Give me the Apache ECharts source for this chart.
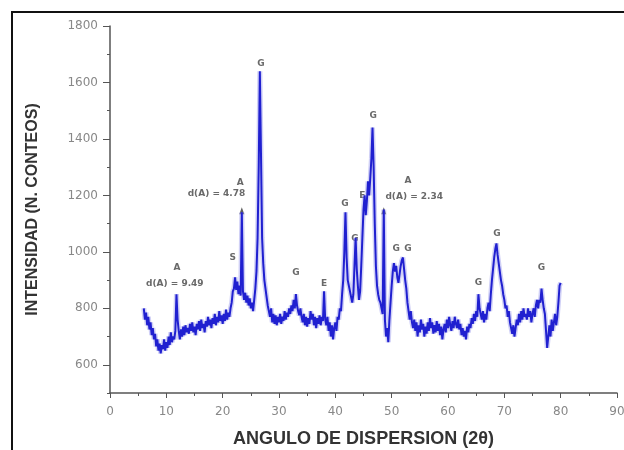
<!DOCTYPE html>
<html lang="es">
<head>
    <meta charset="UTF-8">
    <title>Difractograma</title>
    <script src="https://cdn.jsdelivr.net/npm/echarts@6/dist/echarts.min.js"></script>
</head>
<body style="margin:0;background:#fff;">
<div id="box" style="width: 624px;height: 450px;"></div>
<script>
    // barrido 2theta: inicio y paso de la medida
    var anguloInicio = 6.0;
    var anguloPaso = 0.2;
    // intensidad, cada fila = 2 grados
    var intensidad = [
        800, 760, 785, 740, 770, 725, 750, 705, 730, 690,   // 6
        710, 665, 690, 650, 675, 640, 670, 655, 690, 650,   // 8
        680, 660, 700, 670, 715, 680, 700, 690, 720, 850,   // 10
        760, 720, 690, 725, 700, 735, 705, 740, 715, 730,   // 12
        710, 745, 720, 750, 715, 735, 705, 745, 725, 755,   // 14
        720, 760, 730, 745, 715, 755, 735, 770, 740, 760,   // 16
        730, 765, 745, 780, 740, 770, 750, 790, 755, 775,   // 18
        745, 780, 755, 795, 760, 785, 770, 800, 820, 860,   // 20
        870, 910, 865, 895, 850, 880, 845, 1140, 860, 830,  // 22
        855, 820, 845, 810, 835, 800, 820, 790, 830, 870,   // 24
        930, 1050, 1300, 1640, 1350, 1050, 960, 900, 870, 840, // 26
        810, 790, 770, 800, 750, 780, 745, 775, 740, 770,   // 28
        750, 780, 745, 770, 755, 790, 760, 785, 770, 800,   // 30
        780, 810, 790, 830, 800, 850, 810, 790, 775, 800,   // 32
        770, 750, 780, 740, 770, 735, 765, 745, 790, 760,   // 34
        780, 740, 770, 730, 765, 745, 775, 740, 770, 755,   // 36
        860, 760, 740, 770, 720, 750, 700, 740, 690, 730,   // 38
        750, 720, 770, 760, 800, 790, 850, 900, 1000, 1140, // 40
        980, 900, 880, 860, 840, 820, 850, 950, 1050, 940,  // 42
        880, 830, 860, 950, 1050, 1150, 1200, 1130, 1180, 1250, // 44
        1200, 1260, 1330, 1440, 1300, 1100, 950, 880, 850, 830, // 46
        820, 800, 780, 1150, 760, 700, 730, 680, 760, 820,  // 48
        880, 930, 960, 930, 950, 910, 890, 920, 950, 970,   // 50
        980, 940, 900, 870, 820, 790, 760, 790, 750, 730,   // 52
        760, 720, 750, 700, 740, 715, 760, 725, 745, 700,   // 54
        735, 710, 750, 720, 765, 730, 750, 710, 740, 715,   // 56
        755, 720, 745, 705, 735, 690, 725, 745, 715, 760,   // 58
        730, 770, 740, 720, 755, 730, 770, 745, 730, 760,   // 60
        725, 745, 705, 730, 700, 720, 690, 735, 715, 745,   // 62
        730, 765, 745, 780, 755, 790, 770, 850, 800, 780,   // 64
        760, 790, 750, 780, 760, 800, 820, 790, 850, 900,   // 66
        940, 980, 1010, 1030, 990, 960, 930, 900, 880, 850, // 68
        830, 800, 810, 770, 790, 750, 730, 710, 740, 700,   // 70
        730, 760, 740, 780, 750, 790, 760, 800, 770, 780,   // 72
        760, 800, 770, 790, 750, 780, 800, 770, 810, 830,   // 74
        800, 830, 820, 870, 830, 800, 780, 720, 660, 700,   // 76
        740, 700, 760, 720, 750, 780, 740, 770, 820, 880,   // 78
        890                                                 // 80
    ];

    // marcas grandes del eje Y (con etiqueta)
    var marcasY = [600, 800, 1000, 1200, 1400, 1600, 1800];

    // etiquetas de fases: [2theta, intensidad, texto]
    var etiquetas = [
        [11.9, 945, 'A'], [11.5, 888, 'd(A) = 9.49'],
        [21.8, 980, 'S'],
        [23.1, 1245, 'A'], [18.9, 1206, 'd(A) = 4.78'],
        [26.8, 1668, 'G'], [33.0, 927, 'G'], [38.0, 888, 'E'],
        [41.7, 1170, 'G'], [43.5, 1047, 'G'], [44.8, 1199, 'E'],
        [46.7, 1481, 'G'],
        [52.9, 1252, 'A'], [54.0, 1195, 'd(A) = 2.34'],
        [50.8, 1012, 'G'], [52.9, 1012, 'G'],
        [65.4, 892, 'G'], [68.7, 1065, 'G'], [76.6, 945, 'G']
    ];
    // puntas de flecha de los picos A
    var flechas = [[23.4, 1146], [48.6, 1146]];

    var serie = [];
    for (var i = 0; i < intensidad.length; i++) {
        serie.push([+(anguloInicio + i * anguloPaso).toFixed(1), intensidad[i]]);
    }

    var gris = '#555';
    var myChart = echarts.init(document.getElementById('box'));
    var option = {
        animation: false,
        grid: {left: 110, right: 7, top: 26, bottom: 57, outerBoundsMode: 'none'},
        xAxis: {
            type: 'value', min: 0, max: 90, interval: 10,
            name: 'ANGULO DE DISPERSION (2θ)',
            nameLocation: 'middle', nameGap: 37,
            nameTextStyle: {fontFamily: 'Liberation Sans', fontWeight: 'bold', fontSize: 18, color: '#333'},
            axisLine: {lineStyle: {color: gris, width: 1.5}},
            axisTick: {length: 5, lineStyle: {color: gris}},
            minorTick: {show: true, splitNumber: 2, length: 3, lineStyle: {color: gris}},
            axisLabel: {margin: 13, fontSize: 12, color: '#888', fontFamily: 'DejaVu Sans'},
            splitLine: {show: false}
        },
        yAxis: [
            {
                // ticks menores cada 100
                type: 'value', min: 500, max: 1800, interval: 100,
                name: 'INTENSIDAD (N. CONTEOS)',
                nameLocation: 'middle', nameGap: 69,
                nameTextStyle: {fontFamily: 'Liberation Sans', fontWeight: 'bold', fontSize: 16, color: '#333'},
                axisLine: {show: true, lineStyle: {color: gris, width: 1.5}},
                axisTick: {length: 3, lineStyle: {color: gris}},
                axisLabel: {show: false},
                splitLine: {show: false}
            },
            {
                // marcas grandes y etiquetas cada 200
                type: 'value', min: 500, max: 1800, interval: 100, position: 'left',
                axisLine: {show: false},
                axisTick: {length: 7, customValues: marcasY, lineStyle: {color: gris}},
                axisLabel: {
                    margin: 12, fontSize: 12, color: '#888', fontFamily: 'DejaVu Sans',
                    customValues: marcasY,
                    formatter: function (v) { return String(v); }
                },
                splitLine: {show: false}
            }
        ],
        graphic: [
            {type: 'line', shape: {x1: 12, y1: 11, x2: 12, y2: 450}, style: {stroke: '#111', lineWidth: 2}},
            {type: 'line', shape: {x1: 11, y1: 12, x2: 624, y2: 12}, style: {stroke: '#111', lineWidth: 2}}
        ],
        series: [
            {
                type: 'line', data: serie, symbol: 'none', silent: true,
                lineStyle: {color: 'rgba(150,150,235,0.45)', width: 5}
            },
            {
                type: 'line', data: serie, symbol: 'none',
                lineStyle: {color: '#2020d0', width: 2}
            },
            {
                type: 'scatter', data: flechas, symbol: 'triangle', symbolSize: [5, 7],
                itemStyle: {color: '#333'}
            },
            {
                type: 'scatter', data: etiquetas, symbolSize: 0,
                label: {
                    show: true, position: 'inside', fontSize: 9, fontWeight: 'bold',
                    color: '#444', fontFamily: 'DejaVu Sans',
                    formatter: function (p) { return p.data[2]; }
                }
            }
        ]
    };
    myChart.setOption(option);
</script>
</body>
</html>
